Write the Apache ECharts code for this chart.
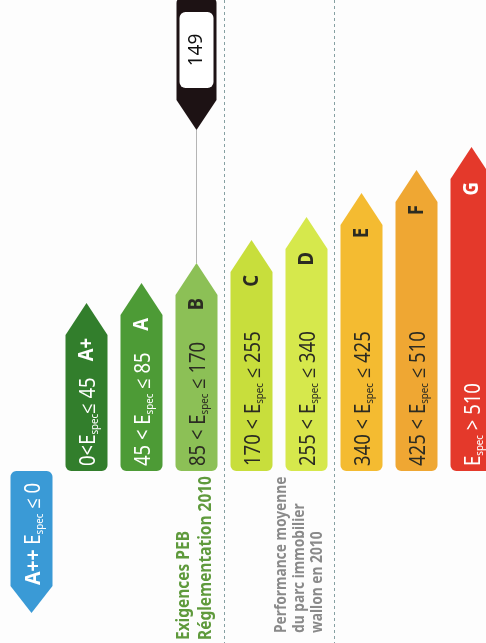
<!DOCTYPE html>
<html><head><meta charset="utf-8">
<script src="https://cdn.jsdelivr.net/npm/echarts/dist/echarts.min.js"></script>
<style>html,body{margin:0;padding:0;background:#fff}#c{width:486px;height:643px}</style>
</head><body><div id="c"></div>
<script>
// ---- data ----
const categories = ['A++','A+','A','B','C','D','E','F','G'];
const arrowLengths = [-142,168,188,208,231,254,278,301,324];
const lowerBounds = [null,0,45,85,170,255,340,425,510];
const upperBounds = [0,45,85,170,255,340,425,510,null];
const measuredValue = 149;
const markerTip = 341;
const markerTop = 474;
const annotationCats = ['B','D'];
const annotationA = ['Exigences PEB','Réglementation 2010'];
const annotationB = ['Performance moyenne','du parc immobilier','wallon en 2010'];

// ---- styles ----
const fills = ['#3a9ad6','#327e2c','#4d9b36','#8cc056','#c8de3c','#d6e84c','#f4bb31','#efa733','#e4392b'];
const inks = ['#fff','#fff','#fff','#2b2b22','#2b2b22','#2b2b22','#2b2b22','#2b2b22','#fff'];
const FONT = '"Noto Sans","Open Sans",sans-serif';
const HW = 21, HEAD = 32, R = 6, SX = 0.88;

function arrowPoints(cx, yBase, yTip, hw, head, r) {
  const dir = yTip < yBase ? -1 : 1;
  const ySh = yTip - dir * head;
  const pts = [[cx - hw, ySh], [cx, yTip], [cx + hw, ySh]];
  const n = 6, ccy = yBase + dir * r;
  const rcx = cx + hw - r, lcx = cx - hw + r;
  for (let k = 0; k <= n; k++) { const a = k / n * Math.PI / 2; pts.push([rcx + r * Math.cos(a), ccy - dir * r * Math.sin(a)]); }
  for (let k = 0; k <= n; k++) { const a = Math.PI / 2 + k / n * Math.PI / 2; pts.push([lcx + r * Math.cos(a), ccy - dir * r * Math.sin(a)]); }
  return { pts, ySh };
}

const richBase = (ink) => ({
  n: { fill: ink, fontSize: 21, fontFamily: FONT, lineHeight: 25, verticalAlign: 'bottom' },
  e: { fill: ink, fontSize: 21, fontFamily: FONT, lineHeight: 25, verticalAlign: 'bottom' },
  s: { fill: ink, fontSize: 11, fontFamily: FONT, lineHeight: 18, verticalAlign: 'bottom' },
  b: { fill: ink, fontSize: 22, fontFamily: FONT, fontWeight: 'bold', lineHeight: 25, verticalAlign: 'bottom' }
});

function rangeText(i) {
  const lo = lowerBounds[i], hi = upperBounds[i];
  const sp = i === 1 ? '' : ' ';
  if (lo === null) return '{b|' + categories[i] + '}{n| }{e|E}{s|spec}{n| ≤ ' + hi + '}';
  if (hi === null) return '{e|E}{s|spec}{n| > ' + lo + '}';
  return '{n|' + lo + sp + '<' + sp + '}{e|E}{s|spec}{n|' + sp + '≤ ' + hi + '}';
}

function renderArrow(params, api) {
  const i = api.value(0);
  const base = api.coord([i, 0]);
  const tip = api.coord([i, api.value(1)]);
  const cx = base[0];
  const { pts, ySh } = arrowPoints(cx, base[1], tip[1], HW, i === 0 ? 27 : HEAD, R);
  const ink = inks[i];
  const up = tip[1] < base[1];
  const children = [{ type: 'polygon', shape: { points: pts }, style: { fill: fills[i] } }];
  children.push({
    type: 'text', x: cx + 1, y: up ? base[1] - 5 : ySh - 1, rotation: Math.PI / 2, scaleX: SX,
    style: { text: rangeText(i), rich: richBase(ink), align: 'left', verticalAlign: 'middle' }
  });
  if (up) {
    children.push({
      type: 'text', x: cx + 1, y: ySh + 3, rotation: Math.PI / 2, scaleX: SX,
      style: { text: categories[i], fill: ink, fontSize: 21, fontWeight: 'bold', fontFamily: FONT, align: 'right', verticalAlign: 'middle' }
    });
  }
  return { type: 'group', children };
}

function classIndex(v) {
  for (let i = 0; i < categories.length; i++) {
    const lo = lowerBounds[i] === null ? -Infinity : lowerBounds[i];
    const hi = upperBounds[i] === null ? Infinity : upperBounds[i];
    if (v > lo && v <= hi) return i;
  }
  return categories.length - 1;
}

function renderMarker(params, api) {
  const i = api.value(0);
  const top = api.coord([i, api.value(2)]);
  const tip = api.coord([i, api.value(1)]);
  const barTop = api.coord([i, arrowLengths[i]]);
  const cx = top[0];
  const { pts, ySh } = arrowPoints(cx, top[1], tip[1], 20, 30, 6);
  return {
    type: 'group', children: [
      { type: 'line', shape: { x1: cx, y1: tip[1], x2: cx, y2: barTop[1] }, style: { stroke: '#b5b5b5', lineWidth: 1 } },
      { type: 'polygon', shape: { points: pts }, style: { fill: '#1d1214' } },
      { type: 'rect', shape: { x: cx - 17, y: top[1] + 15, width: 34, height: ySh - top[1] - 27, r: 6 }, style: { fill: '#fff' } },
      { type: 'text', x: cx, y: (top[1] + 15 + ySh - 12) / 2, rotation: Math.PI / 2,
        style: { text: String(api.value(3)), fill: '#111', fontSize: 19, fontFamily: FONT, align: 'center', verticalAlign: 'middle' } }
    ]
  };
}

function renderAnnotation(params, api) {
  const k = params.dataIndex;
  const i = api.value(0);
  const base = api.coord([i, 0]);
  const lines = k === 0 ? annotationA : annotationB;
  const offs = k === 0 ? [-13, 9] : [-25, -7, 11];
  const y0 = base[1] + (k === 0 ? 169 : 162);
  return {
    type: 'group',
    children: lines.map((t, j) => ({
      type: 'text', x: base[0] + offs[j], y: y0, rotation: Math.PI / 2, scaleX: 0.86,
      style: {
        text: t, fill: k === 0 ? '#5f9a3c' : '#8a8a8a', fontSize: k === 0 ? 18 : 16, fontWeight: 'bold',
        fontFamily: FONT, align: 'left', verticalAlign: 'middle'
      }
    }))
  };
}

const chart = echarts.init(document.getElementById('c'));
chart.setOption({
  animation: false,
  backgroundColor: '#fdfdfd',
  grid: { left: 4, top: 0, width: 495, height: 643, containLabel: false, outerBoundsMode: 'none' },
  xAxis: {
    type: 'category', data: categories, boundaryGap: true,
    axisLine: { show: false }, axisTick: { show: false }, axisLabel: { show: false },
    splitLine: { show: true, interval: (idx) => idx === 4 || idx === 6, lineStyle: { type: [3, 3], color: '#86a0a2', width: 1 } }
  },
  yAxis: { type: 'value', min: -172, max: 471, show: false, splitLine: { show: false } },
  series: [
    { type: 'custom', renderItem: renderArrow, clip: false, data: arrowLengths.map((v, i) => [i, v]) },
    { type: 'custom', renderItem: renderMarker, z: 3, data: [[classIndex(measuredValue), markerTip, markerTop, measuredValue]] },
    { type: 'custom', renderItem: renderAnnotation, data: annotationCats.map(c => [categories.indexOf(c)]) }
  ]
});
</script></body></html>
